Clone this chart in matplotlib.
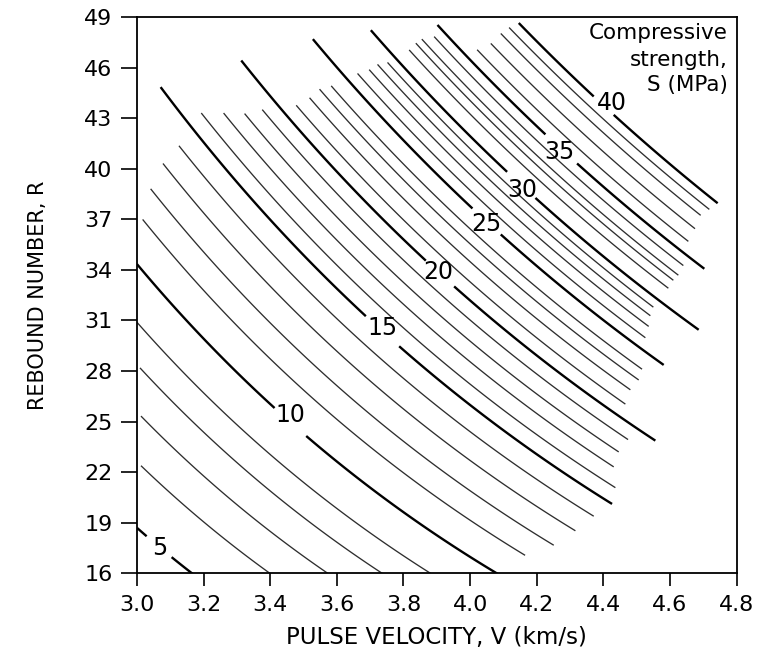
import numpy as np
import matplotlib
matplotlib.use("Agg")
import matplotlib.pyplot as plt

# points: pulse velocity V (km/s),
# rebound number R and the curve's strength S (MPa)
trace_v = [3.0, 3.029, 3.104, 3.163, 3.014, 3.383, 3.014, 3.553, 3.009, 3.707, 3.0, 3.867,
           3.0, 3.413, 3.508, 3.638, 3.807, 3.877, 4.042,
           3.017, 4.165, 3.041, 4.251, 3.078, 4.316, 3.126, 4.371,
           3.071, 3.687, 3.787, 4.026, 4.426,
           3.193, 4.436, 3.26, 4.431, 3.323, 4.446, 3.376, 4.474,
           3.313, 3.867, 3.952, 4.556,
           3.478, 4.466, 3.518, 4.481, 3.548, 4.506, 3.583, 4.516,
           3.528, 4.007, 4.092, 4.581,
           3.662, 4.526, 3.697, 4.536, 3.722, 4.541, 3.752, 4.55,
           3.702, 4.111, 4.196, 4.266, 4.645, 4.686,
           3.817, 3.837, 3.855, 3.892,
           3.902, 4.226, 4.321, 4.703,
           4.021, 4.655, 4.062, 4.675, 4.092, 4.692, 4.117, 4.718,
           4.146, 4.371, 4.431, 4.743]
trace_r = [18.7, 18.09, 17.0, 16.1, 22.5, 16.1, 25.5, 16.1, 28.56, 16.1, 31.0, 16.1,
           34.0, 26.28, 24.5, 22.13, 19.36, 18.57, 16.1,
           37.26, 16.89, 38.94, 17.58, 40.23, 18.58, 41.26, 19.46,
           44.38, 31.43, 29.65, 25.69, 20.05,
           42.94, 21.34, 42.94, 22.58, 43.06, 23.36, 43.49, 23.95,
           46.5, 34.59, 33.11, 23.71,
           44.09, 25.79, 44.48, 26.68, 44.98, 27.27, 45.11, 27.96,
           48.44, 37.56, 35.88, 28.06,
           46.06, 29.65, 46.26, 30.34, 46.5, 31.03, 46.66, 31.5,
           48.73, 39.74, 37.96, 36.6, 31.16, 30.67,
           47.05, 47.45, 47.69, 47.84,
           48.64, 41.91, 40.23, 34.17,
           46.95, 35.79, 47.35, 36.52, 47.75, 37.48, 48.14, 37.8,
           48.44, 44.28, 43.09, 38.25]
trace_s = [5, 5, 5, 5, 6, 6, 7, 7, 8, 8, 9, 9,
           10, 10, 10, 10, 10, 10, 10,
           11, 11, 12, 12, 13, 13, 14, 14,
           15, 15, 15, 15, 15,
           16, 16, 17, 17, 18, 18, 19, 19,
           20, 20, 20, 20,
           21, 21, 22, 22, 23, 23, 24, 24,
           25, 25, 25, 25,
           26, 26, 27, 27, 28, 28, 29, 29,
           30, 30, 30, 30, 30, 30,
           31, 32, 33, 34,
           35, 35, 35, 35,
           36, 36, 37, 37, 38, 38, 39, 39,
           40, 40, 40, 40]

# extent of each curve along V
levels = list(range(5, 41))
v_start = [3.0, 3.012, 3.012, 3.009, 3.0, 3.0, 3.017, 3.041, 3.078, 3.126,
           3.071, 3.193, 3.26, 3.323, 3.376, 3.313, 3.478, 3.518, 3.548, 3.583,
           3.528, 3.662, 3.697, 3.722, 3.752, 3.702, 3.817, 3.837, 3.855, 3.892,
           3.902, 4.021, 4.062, 4.092, 4.117, 4.146]
v_end = [3.163, 3.383, 3.553, 3.707, 3.867, 4.042, 4.165, 4.251, 4.316, 4.371,
         4.426, 4.436, 4.431, 4.446, 4.474, 4.556, 4.466, 4.481, 4.506, 4.516,
         4.581, 4.526, 4.536, 4.541, 4.55, 4.686, 4.595, 4.61, 4.625, 4.64,
         4.703, 4.655, 4.675, 4.692, 4.718, 4.743]

# labelled curves: break in the line (V range) and label centre (V, R)
label_levels = [5, 10, 15, 20, 25, 30, 35, 40]
gap_v = [(3.029, 3.104), (3.413, 3.508), (3.687, 3.787), (3.867, 3.952),
         (4.007, 4.092), (4.111, 4.196), (4.226, 4.321), (4.371, 4.431)]
label_v = [3.069, 3.459, 3.737, 3.905, 4.049, 4.156, 4.268, 4.426]
label_r = [17.48, 25.39, 30.54, 33.85, 36.72, 38.75, 41.0, 43.89]

# iso-curve family: 2*sqrt(R) + K*ln(V) is constant along each curve
K = 12.1


def curve_key(V, R):
    return 2.0 * np.sqrt(R) + K * np.log(V)


def curve_r(key, V):
    return ((key - K * np.log(V)) / 2.0) ** 2


tv, tr, ts = map(np.asarray, (trace_v, trace_r, trace_s))
keys = {s: curve_key(tv[ts == s], tr[ts == s]).mean() for s in levels}

fig = plt.figure(figsize=(7.61, 6.56), dpi=100)
ax = fig.add_axes([0.180, 0.126, 0.788, 0.848])

for s, a, b in zip(levels, v_start, v_end):
    thick = s % 5 == 0
    if s <= 10:
        b += 0.04  # the low curves run down to the V axis
    pieces = [(a, b)]
    if s in label_levels:
        g0, g1 = gap_v[label_levels.index(s)]
        pieces = [(a, g0), (g1, b)]
    for lo, hi in pieces:
        vg = np.linspace(lo, hi, 120)
        ax.plot(vg, curve_r(keys[s], vg),
                color='black' if thick else '#2e2e2e',
                lw=1.7 if thick else 0.95, solid_capstyle='butt')

for s, lv, lr in zip(label_levels, label_v, label_r):
    ax.text(lv, lr, str(s), ha='center', va='center', fontsize=17)

ax.set_xlim(3.0, 4.8)
ax.set_ylim(16, 49)
ax.set_xticks(np.arange(3.0, 4.81, 0.2))
ax.set_yticks(np.arange(16, 50, 3))
ax.xaxis.set_major_formatter(plt.FormatStrFormatter('%.1f'))
ax.tick_params(axis='x', direction='out', length=9.5, width=1.2, labelsize=16, pad=6)
ax.tick_params(axis='y', direction='out', length=11.5, width=1.2, labelsize=16, pad=6)
for sp in ax.spines.values():
    sp.set_linewidth(1.3)

ax.set_xlabel('PULSE VELOCITY, V (km/s)', fontsize=16.5)
ax.set_ylabel('REBOUND NUMBER, R', fontsize=15)
ax.xaxis.set_label_coords(0.5, -0.116)
ax.xaxis.label.set_va('center')
ax.yaxis.set_label_coords(-0.165, 0.5)
ax.yaxis.label.set_va('center')

for txt, y in zip(['Compressive', 'strength,', 'S (MPa)'], [0.9716, 0.9230, 0.8781]):
    ax.text(0.9857, y, txt, transform=ax.transAxes, ha='right', va='center', fontsize=15.5)

fig.savefig('out.png', dpi=100, facecolor='white')
